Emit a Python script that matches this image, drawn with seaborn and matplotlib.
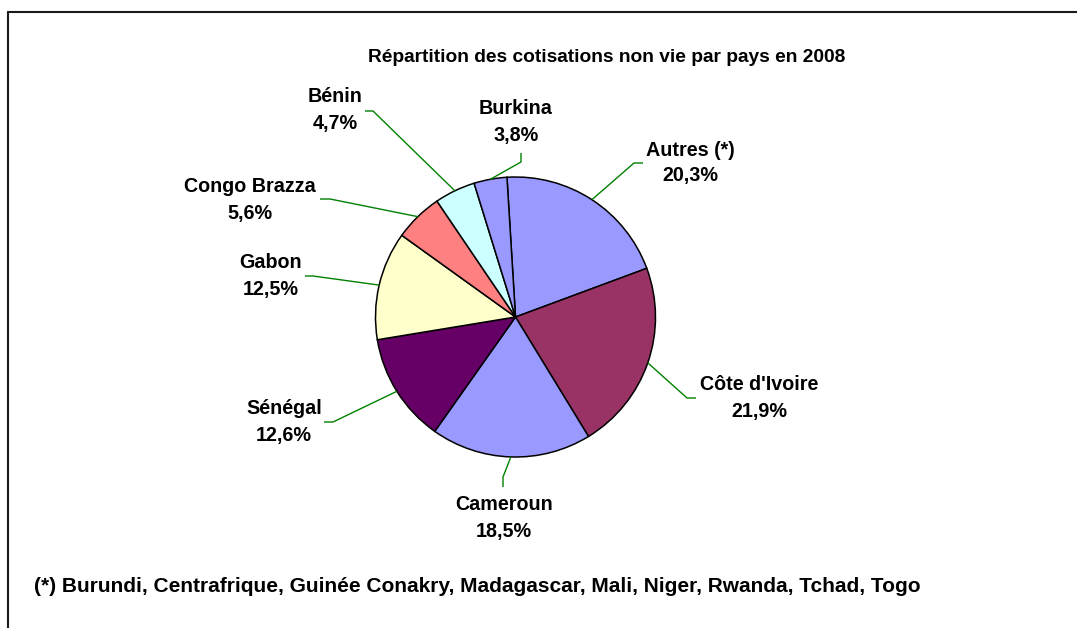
import numpy as np
import matplotlib
matplotlib.use("Agg")
import matplotlib.pyplot as plt
import seaborn as sns

# ---- data ----
countries = ["Autres (*)", "Côte d'Ivoire", "Cameroun", "Sénégal", "Gabon",
             "Congo Brazza", "Bénin", "Burkina"]
shares = [20.3, 21.9, 18.5, 12.6, 12.5, 5.6, 4.7, 3.8]
pct_labels = ["20,3%", "21,9%", "18,5%", "12,6%", "12,5%", "5,6%", "4,7%", "3,8%"]
colors = ["#9999FF", "#993366", "#9999FF", "#660066", "#FFFFCC",
          "#FF8080", "#CCFFFF", "#9999FF"]
title = "Répartition des cotisations non vie par pays en 2008"
footnote = "(*) Burundi, Centrafrique, Guinée Conakry, Madagascar, Mali, Niger, Rwanda, Tchad, Togo"

# ---- layout (pixel coordinates, y measured from top) ----
W, H = 1077, 628
pie_center = (515.5, 317)
pie_radius = 140
start_offset = 3.5  # degrees counter-clockwise from 12 o'clock
label_pos = [(690, 150, 176), (759, 384, 411), (504, 505, 532), (284, 409, 436),
             (271, 263, 289), (250, 186, 214), (335, 96, 124), (516, 109, 136)]
leader_pts = [[(634, 163), (643, 163)], [(687, 398), (696, 398)],
              [(503, 477), (503, 487)], [(333, 422), (324, 422)],
              [(313, 276), (305, 276)], [(330, 199), (320, 199)],
              [(373, 111), (365, 111)], [(521, 162), (521, 153)]]

sns.set_theme(style="white")
plt.rcParams['font.family'] = ['Liberation Sans', 'DejaVu Sans']

fig = plt.figure(figsize=(W / 100, H / 100), dpi=100)
fig.patch.set_facecolor("white")
ax = fig.add_axes([0, 0, 1, 1])

def Y(y):
    return H - y

wedges, _ = ax.pie(shares, colors=colors, startangle=90 + start_offset,
                   counterclock=False, center=(pie_center[0], Y(pie_center[1])),
                   radius=pie_radius, frame=True,
                   wedgeprops=dict(edgecolor="black", linewidth=1.1))
ax.set_xlim(0, W)
ax.set_ylim(0, H)
ax.set_aspect("auto")
ax.axis("off")

label_fs = 14.2
for w, name, pct, (lx, y1, y2), pts in zip(wedges, countries, pct_labels, label_pos, leader_pts):
    mid = np.deg2rad((w.theta1 + w.theta2) / 2)
    sx = pie_center[0] + pie_radius * np.cos(mid)
    sy = Y(pie_center[1]) + pie_radius * np.sin(mid)
    xs = [sx] + [p[0] for p in pts]
    ys = [sy] + [Y(p[1]) for p in pts]
    ax.plot(xs, ys, color="#008000", lw=1.0, solid_capstyle="butt")
    ax.text(lx, Y(y1), name, ha="center", va="center", fontsize=label_fs,
            fontweight="bold", color="black")
    ax.text(lx, Y(y2), pct, ha="center", va="center", fontsize=label_fs,
            fontweight="bold", color="black")

ax.text(607, Y(58), title, ha="center", va="center", fontsize=13.8,
        fontweight="bold", color="black")
ax.text(34, Y(587), footnote, ha="left", va="center", fontsize=15,
        fontweight="bold", color="black")

# chart border (top and left edges visible)
ax.plot([8, W], [Y(12), Y(12)], color="#1a1a1a", lw=1.5, clip_on=False)
ax.plot([8, 8], [Y(12), 0], color="#1a1a1a", lw=1.5, clip_on=False)

fig.savefig("out.png", dpi=100, facecolor="white")
